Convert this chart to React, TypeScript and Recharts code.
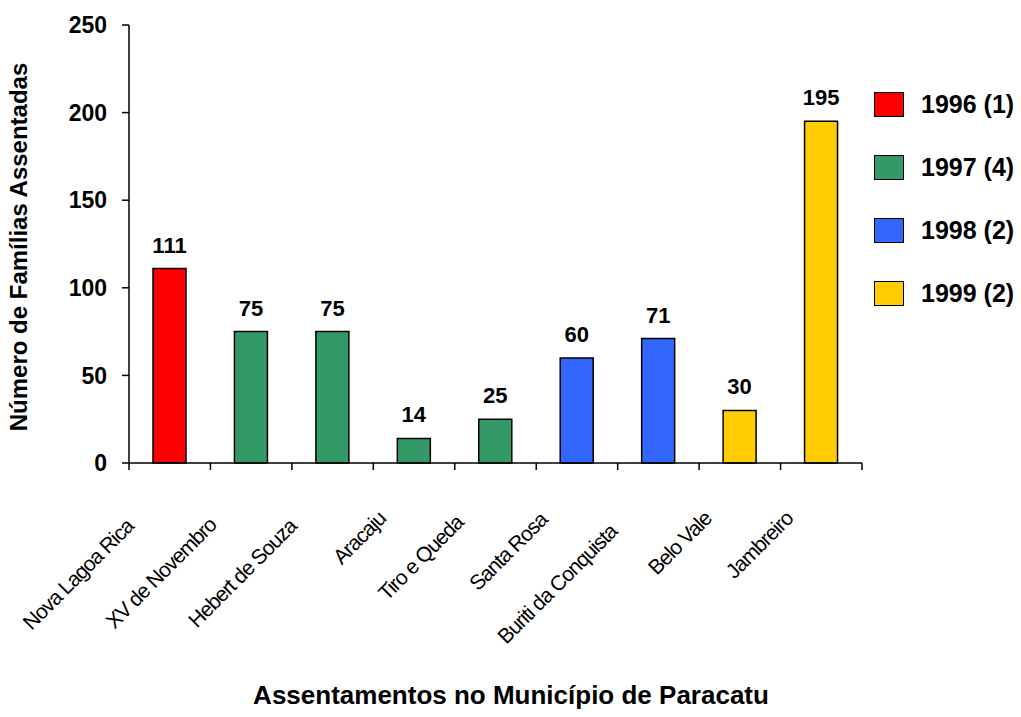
import React from "react";
import {
  BarChart,
  Bar,
  Cell,
  XAxis,
  YAxis,
  Legend,
  LabelList,
} from "recharts";

const assentamentos = [
  "Nova Lagoa Rica",
  "XV de Novembro",
  "Hebert de Souza",
  "Aracaju",
  "Tiro e Queda",
  "Santa Rosa",
  "Buriti da Conquista",
  "Belo Vale",
  "Jambreiro",
];
const familias = [111, 75, 75, 14, 25, 60, 71, 30, 195];
const anos = [1996, 1997, 1997, 1997, 1997, 1998, 1998, 1999, 1999];

const legendAnos = [1996, 1997, 1998, 1999];
const legendLabels = ["1996 (1)", "1997 (4)", "1998 (2)", "1999 (2)"];
const coresAno: Record<number, string> = {
  1996: "#ff0000",
  1997: "#339966",
  1998: "#3366ff",
  1999: "#ffcc00",
};

const yTicks = [0, 50, 100, 150, 200, 250];

const data = assentamentos.map((nome, i) => ({
  nome,
  familias: familias[i],
  ano: anos[i],
}));

const FONT = "'Liberation Sans', Arial, sans-serif";

// rotated label + tick marks on the band edges (Excel style)
function CategoryTick(props: any) {
  const { x, y, payload, index } = props;
  const half = payload.offset || 0;
  // long labels sit a bit lower/left, like the original
  const extra = Math.max(0, String(payload.value).length - 9) * 1.3;
  const tx = x - 27 - extra;
  const ty = y + 57 + extra;
  return (
    <g>
      <line x1={x - half} y1={y} x2={x - half} y2={y + 7} stroke="#000" strokeWidth={1.5} />
      {index === assentamentos.length - 1 && (
        <line x1={x + half} y1={y} x2={x + half} y2={y + 7} stroke="#000" strokeWidth={1.5} />
      )}
      <text
        x={tx}
        y={ty}
        textAnchor="end"
        fontFamily={FONT}
        fontSize={21}
        letterSpacing={-1}
        fill="#000"
        transform={`rotate(-45, ${tx}, ${ty})`}
      >
        {payload.value}
      </text>
    </g>
  );
}

function LegendBox() {
  return (
    <div style={{ fontFamily: FONT }}>
      {legendAnos.map((ano, i) => (
        <div
          key={ano}
          style={{ display: "flex", alignItems: "center", height: 63 }}
        >
          <div
            style={{
              width: 28,
              height: 23,
              background: coresAno[ano],
              border: "1.5px solid #000",
              marginRight: 17,
            }}
          />
          <span style={{ fontSize: 25, fontWeight: "bold", color: "#000" }}>
            {legendLabels[i]}
          </span>
        </div>
      ))}
    </div>
  );
}

export default function App() {
  return (
    <div style={{ position: "absolute", left: 0, top: 0, background: "#fff" }}>
      <BarChart
        width={1021}
        height={717}
        data={data}
        margin={{ top: 25, right: 159, left: 0, bottom: 54 }}
      >
        <XAxis
          dataKey="nome"
          interval={0}
          height={200}
          axisLine={{ stroke: "#000", strokeWidth: 1.5 }}
          tickLine={false}
          tickSize={0}
          tickMargin={0}
          tick={<CategoryTick />}
          label={{
            content: () => (
              <text
                x={511}
                y={704}
                textAnchor="middle"
                fontFamily={FONT}
                fontSize={26}
                fontWeight="bold"
                fill="#000"
              >
                Assentamentos no Município de Paracatu
              </text>
            ),
          }}
        />
        <YAxis
          domain={[0, 250]}
          ticks={yTicks}
          width={129}
          tickSize={7}
          tickMargin={15}
          axisLine={{ stroke: "#000", strokeWidth: 1.5 }}
          tickLine={{ stroke: "#000", strokeWidth: 1.5 }}
          tick={{
            fill: "#000",
            fontSize: 23,
            fontWeight: "bold",
            fontFamily: FONT,
          }}
          label={{
            content: (p: any) => {
              const vb = p.viewBox;
              const cx = 27;
              const cy = vb.y + vb.height / 2 + 3;
              return (
                <text
                  x={cx}
                  y={cy}
                  textAnchor="middle"
                  fontFamily={FONT}
                  fontSize={24}
                  fontWeight="bold"
                  fill="#000"
                  transform={`rotate(-90, ${cx}, ${cy})`}
                >
                  Número de Famílias Assentadas
                </text>
              );
            },
          }}
        />
        <Legend
          layout="horizontal"
          verticalAlign="middle"
          align="center"
          content={<LegendBox />}
          wrapperStyle={{ left: 874, top: 73, width: 150 }}
        />
        <Bar
          dataKey="familias"
          barSize={33}
          stroke="#000"
          strokeWidth={1.5}
          isAnimationActive={false}
        >
          {data.map((d) => (
            <Cell key={d.nome} fill={coresAno[d.ano]} />
          ))}
          <LabelList
            dataKey="familias"
            position="top"
            offset={16}
            fill="#000"
            fontSize={22}
            fontWeight="bold"
            fontFamily={FONT}
          />
        </Bar>
      </BarChart>
    </div>
  );
}
